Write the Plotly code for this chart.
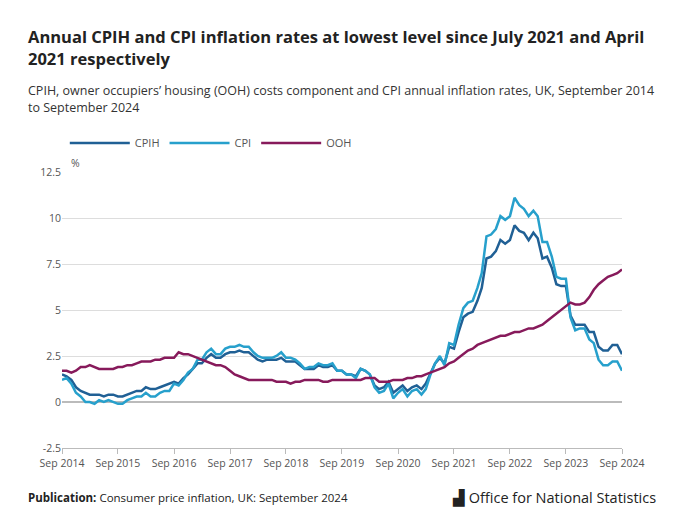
import plotly.graph_objects as go
import pandas as pd

start = "2014-09-01"
cpih = [1.5,1.4,1.2,0.8,
 0.6,0.5,0.4,0.4,0.4,0.3,0.4,0.4,0.3,0.3,0.4,0.5,
 0.6,0.6,0.8,0.7,0.7,0.8,0.9,1.0,1.1,1.0,1.3,1.5,
 1.8,2.1,2.1,2.4,2.6,2.4,2.4,2.6,2.7,2.7,2.8,2.7,
 2.7,2.5,2.3,2.2,2.3,2.3,2.3,2.4,2.2,2.2,2.2,2.0,
 1.8,1.8,1.8,2.0,1.9,1.9,2.0,1.7,1.7,1.5,1.5,1.4,
 1.8,1.7,1.5,0.9,0.7,0.8,1.1,0.5,0.7,0.9,0.6,0.8,
 0.9,0.7,1.0,1.6,2.1,2.4,2.1,3.0,2.9,3.8,4.6,4.8,
 4.9,5.5,6.2,7.8,7.9,8.2,8.8,8.6,8.8,9.6,9.3,9.2,
 8.8,9.2,8.9,7.8,7.9,7.3,6.4,6.3,6.3,4.7,4.2,4.2,
 4.2,3.8,3.8,3.0,2.8,2.8,3.1,3.1,2.6]
cpi = [1.2,1.3,1.0,0.5,
 0.3,0.0,0.0,-0.1,0.1,0.0,0.1,0.0,-0.1,-0.1,0.1,0.2,
 0.3,0.3,0.5,0.3,0.3,0.5,0.6,0.6,1.0,0.9,1.2,1.6,
 1.8,2.3,2.3,2.7,2.9,2.6,2.6,2.9,3.0,3.0,3.1,3.0,
 3.0,2.7,2.5,2.4,2.4,2.4,2.5,2.7,2.4,2.4,2.3,2.1,
 1.8,1.9,1.9,2.1,2.0,2.0,2.1,1.7,1.7,1.5,1.5,1.3,
 1.8,1.7,1.5,0.8,0.5,0.6,1.0,0.2,0.5,0.7,0.3,0.6,
 0.7,0.4,0.7,1.5,2.1,2.5,2.0,3.2,3.1,4.2,5.1,5.4,
 5.5,6.2,7.0,9.0,9.1,9.4,10.1,9.9,10.1,11.1,10.7,10.5,
 10.1,10.4,10.1,8.7,8.7,7.9,6.8,6.7,6.7,4.6,3.9,4.0,
 4.0,3.4,3.2,2.3,2.0,2.0,2.2,2.2,1.7]
ooh = [1.7,1.7,1.6,1.7,
 1.9,1.9,2.0,1.9,1.8,1.8,1.8,1.8,1.9,1.9,2.0,2.0,
 2.1,2.2,2.2,2.2,2.3,2.3,2.4,2.4,2.4,2.7,2.6,2.6,
 2.5,2.4,2.3,2.2,2.1,2.0,2.0,1.9,1.7,1.5,1.4,1.3,
 1.2,1.2,1.2,1.2,1.2,1.2,1.1,1.1,1.1,1.0,1.1,1.1,
 1.2,1.2,1.2,1.2,1.1,1.1,1.2,1.2,1.2,1.2,1.2,1.2,
 1.2,1.3,1.3,1.3,1.1,1.1,1.1,1.2,1.2,1.2,1.3,1.3,
 1.4,1.4,1.5,1.6,1.7,1.8,1.9,2.1,2.2,2.4,2.6,2.8,
 2.9,3.1,3.2,3.3,3.4,3.5,3.6,3.6,3.7,3.8,3.8,3.9,
 4.0,4.0,4.1,4.2,4.4,4.6,4.8,5.0,5.2,5.4,5.3,5.3,
 5.4,5.7,6.1,6.4,6.6,6.8,6.9,7.0,7.2]
dates = pd.date_range(start, periods=len(cpih), freq="MS")
tick_vals = [f"{y}-09-01" for y in range(2014, 2025)]
tick_text = [f"Sep {y}" for y in range(2014, 2025)]
y_ticks = [-2.5, 0, 2.5, 5, 7.5, 10, 12.5]
y_text = ["-2.5", "0", "2.5", "5", "7.5", "10", "12.5"]

fig = go.Figure()
for name, vals, col in [("CPIH", cpih, "#206095"), ("CPI", cpi, "#27a0cc"), ("OOH", ooh, "#871a5b")]:
    fig.add_trace(go.Scatter(x=dates, y=vals, name=name, mode="lines",
                             line=dict(color=col, width=2.5)))

T, B = 172, 448
def py(p):
    return (B - p) / (B - T)
LX = -0.064

anns = [
    dict(x=LX, y=py(36), text="<b>Annual CPIH and CPI inflation rates at lowest level since July 2021 and April</b>", size=16.5, color="#222"),
    dict(x=LX, y=py(59), text="<b>2021 respectively</b>", size=16.5, color="#222"),
    dict(x=LX, y=py(90), text="CPIH, owner occupiers’ housing (OOH) costs component and CPI annual inflation rates, UK, September 2014", size=12.5, color="#333"),
    dict(x=LX, y=py(107), text="to September 2024", size=12.5, color="#333"),
    dict(x=0.012, y=py(163), text="%", size=10.5, color="#555"),
    dict(x=LX, y=py(497), text="<b>Publication:</b> Consumer price inflation, UK: September 2024", size=11.5, color="#222"),
]
annotations = [dict(xref="paper", yref="paper", x=a["x"], y=a["y"], text=a["text"], showarrow=False,
                    xanchor="left", yanchor="middle", font=dict(size=a["size"], color=a["color"])) for a in anns]
annotations.append(dict(xref="paper", yref="paper", x=1.065, y=py(497), text="▟ Office for National Statistics",
                        showarrow=False, xanchor="right", yanchor="middle", font=dict(size=14.5, color="#222")))

fig.update_layout(
    width=680, height=529, template="plotly_white",
    font=dict(family="Open Sans", size=11, color="#555"),
    margin=dict(l=62, r=58, t=T, b=529 - B),
    plot_bgcolor="white", paper_bgcolor="white",
    showlegend=True,
    legend=dict(orientation="h", x=0.005, y=py(143), yanchor="middle", xanchor="left",
                font=dict(size=11, color="#555"), itemwidth=60),
    annotations=annotations,
    xaxis=dict(tickvals=tick_vals, ticktext=tick_text, showgrid=False, ticks="outside",
               ticklen=5, tickcolor="#bbb", showline=True, linecolor="#bbb",
               range=["2014-09-01", "2024-09-01"], tickfont=dict(size=10.5)),
    yaxis=dict(range=[-2.5, 12.5], tickvals=y_ticks, ticktext=y_text, gridcolor="#ddd",
               zeroline=True, zerolinecolor="#bbb", tickfont=dict(size=10.5)),
)
fig.write_html("out.html", config={"displayModeBar": False},
               post_script="document.body.style.margin='0';")
